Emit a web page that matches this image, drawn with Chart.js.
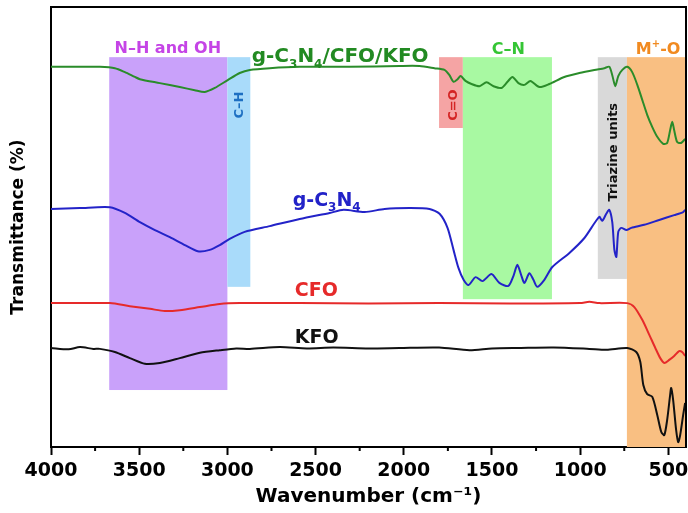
<!DOCTYPE html>
<html><head><meta charset="utf-8">
<script src="https://cdn.jsdelivr.net/npm/chart.js@4"></script>
<style>html,body{margin:0;padding:0;background:#fff}</style>
</head><body>
<canvas id="c" width="688" height="513"></canvas>
<script>
// ---- tick labels ----
const xMajorTicks = [4000,3500,3000,2500,2000,1500,1000,500];
const xMinorTicks = [3750,3250,2750,2250,1750,1250,750];

// ---- series (wavenumber cm-1, transmittance arb. %) ----
const compositeWn = [4000,3836,3723,3638,3581,3524,3496,3383,3270,3185,3128,3071,2998,2930,2873,2760,2590,2307,2024,1911,1826,1769,1741,1718,1695,1678,1650,1616,1571,1531,1491,1446,1412,1384,1350,1316,1282,1231,1175,1090,1005,920,863,835,818,801,784,761,733,705,676,648,620,591,563,529,507,490,478,467,450,428,405];
const compositeT  = [86.4,86.4,86.4,86.1,85.2,84.1,83.6,82.7,81.8,81.1,80.7,81.6,83.4,85.0,85.7,86.1,86.4,86.4,86.6,86.6,86.1,85.7,84.5,83.0,83.6,84.3,83.2,82.5,82.0,82.9,82.0,81.6,83.0,84.1,82.7,82.3,83.2,81.8,82.5,84.1,85.0,85.7,86.1,86.4,84.5,82.0,84.3,85.7,86.4,85.2,82.3,78.9,75.5,72.7,70.5,68.9,69.1,72.0,73.9,72.0,69.3,69.1,70.0];

const gcnWn = [4000,3836,3666,3581,3496,3411,3326,3241,3168,3100,3043,2987,2902,2760,2590,2420,2341,2222,2109,1967,1854,1797,1752,1718,1690,1661,1633,1593,1554,1503,1458,1407,1378,1356,1333,1316,1288,1265,1243,1203,1158,1061,976,892,875,852,835,818,806,795,784,767,738,710,637,552,467,416,405];
const gcnT  = [54.1,54.3,54.5,53.2,51.1,49.3,47.7,45.9,44.5,44.8,45.9,47.3,48.9,50.2,51.8,53.2,53.9,53.4,54.1,54.3,54.1,53.0,49.8,44.8,40.7,38.0,36.8,38.6,37.7,39.3,37.3,36.6,38.9,41.4,38.9,37.3,39.5,38.0,36.4,38.0,40.9,44.1,47.5,52.3,51.4,53.0,53.9,51.1,44.8,43.2,48.9,49.8,49.3,49.8,50.5,51.6,52.7,53.4,53.9];

const cfoWn = [4000,3666,3553,3439,3355,3270,3156,3043,2930,2590,2200,1800,1400,1000,948,892,733,693,648,608,574,546,523,495,467,439,422,405];
const cfoT  = [32.7,32.7,32.0,31.4,30.9,31.1,31.8,32.5,32.7,32.7,32.6,32.7,32.6,32.7,33.0,32.7,32.7,31.8,28.9,25.5,22.5,20.2,19.1,19.8,20.7,21.8,21.6,20.7];

const kfoWn = [4000,3900,3836,3760,3723,3638,3553,3468,3383,3270,3156,3043,2950,2873,2703,2550,2400,2200,2024,1800,1628,1500,1344,1150,948,850,733,682,659,642,620,591,563,540,523,507,490,484,473,456,444,433,416,405];
const kfoT  = [22.5,22.2,22.7,22.3,22.3,21.6,20.2,18.9,19.1,20.2,21.4,22.0,22.4,22.3,22.7,22.4,22.6,22.4,22.5,22.6,22.0,22.4,22.5,22.6,22.3,22.1,22.5,21.6,19.3,14.1,12.0,11.4,7.3,3.4,2.7,6.1,11.8,13.4,10.7,3.9,1.1,2.7,7.3,10.0];

// ---- shaded assignment bands ----
const bandFrom   = [3670, 3000, 1800, 1665, 900, 735];
const bandTo     = [3000, 2870, 1665, 1160, 735, 400];
const bandLow    = [12.95, 36.4, 72.5, 33.6, 38.2, 0];
const bandHigh   = [88.6, 88.6, 88.6, 88.6, 88.6, 88.6];
const bandColors = ['#c9a1fa','#a9dbfa','#f5a4a4','#a8f9a2','#d9d9d9','#f9bf82'];

const FONT = 'DejaVu Sans';
const mk = (wn, t) => wn.map((w,i)=>({x:w, y:t[i]}));

function fontFor(kind, size){
  const s = kind==='n' ? size : Math.round(size*0.62);
  return 'bold ' + s + 'px "' + FONT + '"';
}
function drawRich(ctx, parts, x, ymid, size, color, align){
  ctx.fillStyle = color; ctx.textBaseline = 'alphabetic';
  const widths = parts.map(p => { ctx.font = fontFor(p[1], size); return ctx.measureText(p[0]).width; });
  const total = widths.reduce((a,b)=>a+b, 0);
  let cx = align === 'center' ? x - total/2 : x;
  const base = ymid + size*0.365;
  parts.forEach((p,i) => {
    ctx.font = fontFor(p[1], size);
    const dy = p[1]==='sub' ? size*0.28 : (p[1]==='sup' ? -size*0.42 : 0);
    ctx.fillText(p[0], cx, base + dy);
    cx += widths[i];
  });
}

// annotation labels: [parts, wavenumber, yValue, size, color, align, rotated]
const labels = [
  [[['N–H and OH','n']], 3338, 90.9, 16, '#c544e6', 'center', false],
  [[['g-C','n'],['3','sub'],['N','n'],['4','sub'],['/CFO/KFO','n']], 2862, 89.1, 20, '#228a22', 'left', false],
  [[['C–N','n']], 1407, 90.7, 16, '#34c534', 'center', false],
  [[['M','n'],['+','sup'],['-O','n']], 558, 90.7, 16, '#f18a20', 'center', false],
  [[['C–H','n']], 2941, 77.7, 13, '#1d6fc2', 'center', true],
  [[['C=O','n']], 1724, 77.7, 13, '#d42424', 'center', true],
  [[['Triazine units','n']], 818, 67.0, 13, '#111111', 'center', true],
  [[['g-C','n'],['3','sub'],['N','n'],['4','sub']], 2630, 56.4, 19, '#2222c8', 'left', false],
  [[['CFO','n']], 2618, 35.9, 19, '#e62a2a', 'left', false],
  [[['KFO','n']], 2618, 25.2, 19, '#111111', 'left', false]
];

const decor = {
  id: 'decor',
  beforeDatasetsDraw(chart){
    const {ctx, scales:{x, y}} = chart;
    ctx.save();
    bandFrom.forEach((f,i) => {
      const x1 = x.getPixelForValue(f), x2 = x.getPixelForValue(bandTo[i]);
      const y1 = y.getPixelForValue(bandHigh[i]), y2 = y.getPixelForValue(bandLow[i]);
      ctx.fillStyle = bandColors[i];
      ctx.fillRect(Math.min(x1,x2), y1, Math.abs(x2-x1), y2-y1);
    });
    ctx.restore();
  },
  afterDatasetsDraw(chart){
    const {ctx, scales:{x, y}} = chart;
    ctx.save();
    labels.forEach(l => {
      const px = x.getPixelForValue(l[1]), py = y.getPixelForValue(l[2]);
      if (l[6]) {
        ctx.save(); ctx.translate(px, py); ctx.rotate(-Math.PI/2);
        drawRich(ctx, l[0], 0, 0, l[3], l[4], 'center');
        ctx.restore();
      } else {
        drawRich(ctx, l[0], px, py, l[3], l[4], l[5]);
      }
    });
    ctx.restore();
  },
  afterDraw(chart){
    const {ctx, chartArea:a, scales:{x}} = chart;
    ctx.save();
    ctx.strokeStyle = '#000'; ctx.lineWidth = 2;
    ctx.beginPath();
    ctx.moveTo(a.left, a.top); ctx.lineTo(a.right, a.top); ctx.lineTo(a.right, a.bottom);
    ctx.stroke();
    ctx.beginPath();
    xMinorTicks.forEach(v => {
      const px = x.getPixelForValue(v);
      ctx.moveTo(px, a.bottom); ctx.lineTo(px, a.bottom + 4);
    });
    ctx.stroke();
    ctx.restore();
  }
};

new Chart(document.getElementById('c'), {
  type: 'line',
  data: {
    datasets: [
      {label:'g-C3N4/CFO/KFO', data: mk(compositeWn, compositeT), borderColor:'#2a8c2a'},
      {label:'g-C3N4', data: mk(gcnWn, gcnT), borderColor:'#2323c8'},
      {label:'CFO', data: mk(cfoWn, cfoT), borderColor:'#e62a2a'},
      {label:'KFO', data: mk(kfoWn, kfoT), borderColor:'#111111'}
    ]
  },
  options: {
    responsive: false,
    animation: false,
    devicePixelRatio: 1,
    layout: {padding: {top: 7, right: 2, left: 0, bottom: 0}},
    elements: {point: {radius: 0}, line: {borderWidth: 2, tension: 0.25, fill: false}},
    plugins: {legend: {display: false}, tooltip: {enabled: false}},
    scales: {
      x: {
        type: 'linear', reverse: true, min: 400, max: 4000,
        afterBuildTicks: s => { s.ticks = xMajorTicks.map(v => ({value: v})); },
        ticks: {font: {family: FONT, weight: 'bold', size: 19}, color: '#000', padding: 5, maxRotation: 0, autoSkip: false, callback: v => String(v)},
        grid: {display: true, drawOnChartArea: false, drawTicks: true, tickLength: 8, tickWidth: 2, tickColor: '#000'},
        border: {display: true, color: '#000', width: 2},
        title: {display: true, text: 'Wavenumber (cm⁻¹)', color: '#000', font: {family: FONT, weight: 'bold', size: 20}, padding: {top: 0, bottom: 4}},
        afterFit: s => { s.height = 66; s.paddingLeft = 0; s.paddingRight = 0; }
      },
      y: {
        min: 0, max: 100,
        ticks: {display: false},
        grid: {display: false},
        border: {display: true, color: '#000', width: 2},
        title: {display: true, text: 'Transmittance (%)', color: '#000', font: {family: FONT, weight: 'bold', size: 17}, padding: {top: 8, bottom: 0}},
        afterFit: s => { s.width = 51; }
      }
    }
  },
  plugins: [decor]
});
</script>
</body></html>
